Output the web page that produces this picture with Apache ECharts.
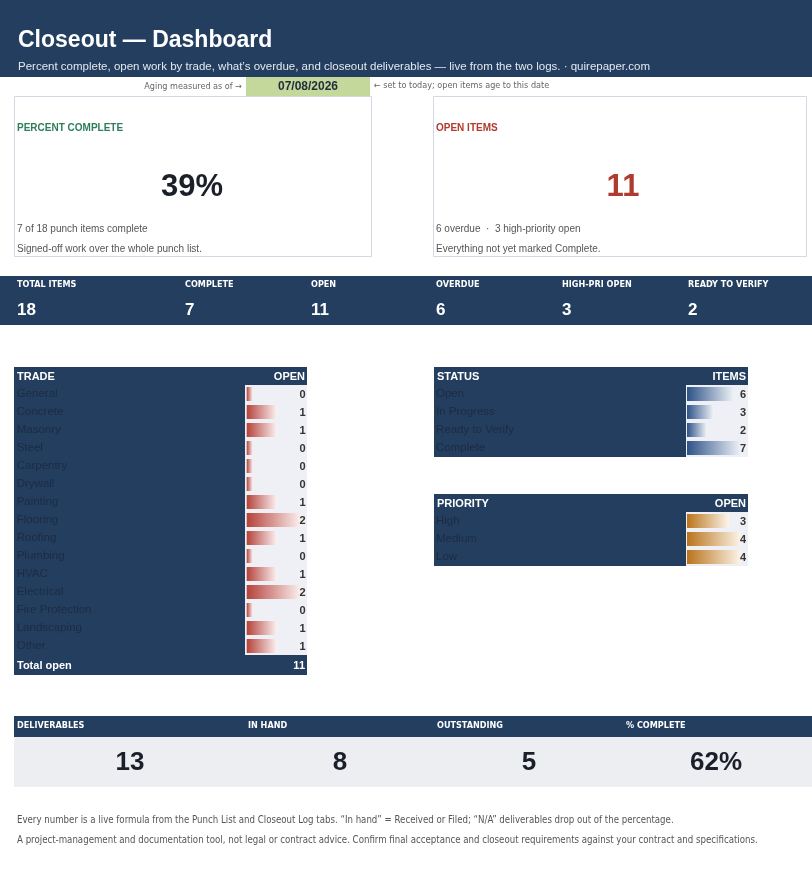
<!DOCTYPE html>
<html>
<head>
<meta charset="utf-8">
<script src="https://cdn.jsdelivr.net/npm/echarts@6/dist/echarts.min.js"></script>
<style>
  html, body { margin: 0; padding: 0; background: #fff; }
  #chart { width: 812px; height: 869px; }
</style>
</head>
<body>
<div id="chart"></div>
<script>
// punch list by trade
const trades = ['General', 'Concrete', 'Masonry', 'Steel', 'Carpentry', 'Drywall', 'Painting', 'Flooring',
  'Roofing', 'Plumbing', 'HVAC', 'Electrical', 'Fire Protection', 'Landscaping', 'Other'];
const tradeOpen = [0, 1, 1, 0, 0, 0, 1, 2, 1, 0, 1, 2, 0, 1, 1];

const statuses = ['Open', 'In Progress', 'Ready to Verify', 'Complete'];
const statusItems = [6, 3, 2, 7];

const priorities = ['High', 'Medium', 'Low'];
const priorityOpen = [3, 4, 4];

const kpiLabels = ['TOTAL ITEMS', 'COMPLETE', 'OPEN', 'OVERDUE', 'HIGH-PRI OPEN', 'READY TO VERIFY'];
const kpiValues = ['18', '7', '11', '6', '3', '2'];

const delivLabels = ['DELIVERABLES', 'IN HAND', 'OUTSTANDING', '% COMPLETE'];
const delivValues = ['13', '8', '5', '62%'];

const NAVY = '#243e60';
const CELL = '#eef0f5';
const FONT = "'Liberation Sans', Roboto, sans-serif";
const NARROW = "'Liberation Sans Narrow', 'DejaVu Sans Condensed', 'Liberation Sans', sans-serif";

const chart = echarts.init(document.getElementById('chart'));

// excel-style data bar: 10% min length, 90% at max
function axisRange(values) {
  const m = Math.max(...values);
  return { min: -m / 8, max: m * 9 / 8 };
}

function dataBar(colorFrom, colorTo, axisMin) {
  return function (params, api) {
    const idx = api.value(1);
    const v = api.value(0);
    const start = api.coord([axisMin, idx]);
    const end = api.coord([v, idx]);
    const h = api.size([0, 1])[1] * 0.78;
    const cs = params.coordSys;
    return {
      type: 'group',
      children: [
        {
          type: 'rect',
          shape: { x: start[0], y: start[1] - h / 2, width: end[0] - start[0], height: h },
          style: {
            fill: new echarts.graphic.LinearGradient(0, 0, 1, 0, [
              { offset: 0, color: colorFrom },
              { offset: 1, color: colorTo }
            ])
          }
        },
        {
          type: 'text',
          style: {
            text: String(v),
            x: cs.x + cs.width - 1,
            y: start[1] + 1,
            align: 'right',
            verticalAlign: 'middle',
            fill: '#333',
            font: 'bold 11px ' + FONT
          }
        }
      ]
    };
  };
}

const tradeRange = axisRange(tradeOpen);
const statusRange = axisRange(statusItems);
const prioRange = axisRange(priorityOpen);

function txt(text, x, y, opts) {
  const o = opts || {};
  return {
    type: 'text', z: 50, x: x, y: y,
    style: {
      text: text,
      fill: o.color || '#fff',
      font: o.font || ('10px ' + FONT),
      align: o.align || 'left',
      verticalAlign: 'middle'
    }
  };
}
function box(x, y, w, h, fill, stroke) {
  return {
    type: 'rect', z: 1,
    shape: { x: x, y: y, width: w, height: h },
    style: { fill: fill, stroke: stroke || null, lineWidth: stroke ? 1 : 0 }
  };
}

const graphics = [
  // header
  box(0, 0, 812, 77, NAVY),
  txt('Closeout — Dashboard', 18, 41, { font: 'bold 23px ' + FONT }),
  txt('Percent complete, open work by trade, what\u2019s overdue, and closeout deliverables \u2014 live from the two logs. \u00b7 quirepaper.com', 18, 67, { font: '11.5px ' + FONT, color: '#e2e8f0' }),
  txt('Aging measured as of \u2192', 242, 87, { font: '9px ' + NARROW, color: '#666', align: 'right' }),
  box(246, 77, 124, 19, '#c4d89c'),
  txt('07/08/2026', 308, 86.5, { font: 'bold 12px ' + FONT, color: '#1f2d3d', align: 'center' }),
  txt('\u2190 set to today; open items age to this date', 374, 86, { font: '9px ' + NARROW, color: '#666' }),

  // cards
  box(14.5, 96.5, 357, 160, '#fff', '#d3d8e2'),
  txt('PERCENT COMPLETE', 17, 128, { font: 'bold 10px ' + FONT, color: '#2e7d5b' }),
  txt('39%', 192, 187, { font: 'bold 31px ' + FONT, color: '#1b1f2a', align: 'center' }),
  txt('7 of 18 punch items complete', 17, 229, { font: '10px ' + FONT, color: '#555' }),
  txt('Signed-off work over the whole punch list.', 17, 249, { font: '10px ' + FONT, color: '#555' }),

  box(433.5, 96.5, 373, 160, '#fff', '#d3d8e2'),
  txt('OPEN ITEMS', 436, 128, { font: 'bold 10px ' + FONT, color: '#b03a2e' }),
  txt('11', 623, 187, { font: 'bold 31px ' + FONT, color: '#b03a2e', align: 'center' }),
  txt('6 overdue  \u00b7  3 high-priority open', 436, 229, { font: '10px ' + FONT, color: '#555' }),
  txt('Everything not yet marked Complete.', 436, 249, { font: '10px ' + FONT, color: '#555' }),

  // kpi band
  box(0, 276, 812, 49, NAVY),

  // trade table
  box(14, 367, 293, 18, NAVY),
  box(14, 385, 231, 270, NAVY),
  box(245, 385, 62, 270, CELL),
  box(14, 655, 293, 20, NAVY),
  txt('TRADE', 17, 377, { font: 'bold 11px ' + FONT }),
  txt('OPEN', 305, 377, { font: 'bold 11px ' + FONT, align: 'right' }),
  txt('Total open', 17, 666, { font: 'bold 11px ' + FONT }),
  txt(String(tradeOpen.reduce((a, b) => a + b, 0)), 305, 666, { font: 'bold 11px ' + FONT, align: 'right' }),

  // status table
  box(434, 367, 314, 18, NAVY),
  box(434, 385, 252, 72, NAVY),
  box(686, 385, 62, 72, CELL),
  txt('STATUS', 437, 377, { font: 'bold 11px ' + FONT }),
  txt('ITEMS', 746, 377, { font: 'bold 11px ' + FONT, align: 'right' }),

  // priority table
  box(434, 494, 314, 18, NAVY),
  box(434, 512, 252, 54, NAVY),
  box(686, 512, 62, 54, CELL),
  txt('PRIORITY', 437, 504, { font: 'bold 11px ' + FONT }),
  txt('OPEN', 746, 504, { font: 'bold 11px ' + FONT, align: 'right' }),

  // deliverables
  box(14, 716, 798, 21, NAVY),
  box(14, 737, 798, 50, '#eceef2'),

  // footer
  txt('Every number is a live formula from the Punch List and Closeout Log tabs. \u201cIn hand\u201d = Received or Filed; \u201cN/A\u201d deliverables drop out of the percentage.', 17, 820, { font: '9.6px ' + NARROW, color: '#555' }),
  txt('A project-management and documentation tool, not legal or contract advice. Confirm final acceptance and closeout requirements against your contract and specifications.', 17, 840, { font: '9.6px ' + NARROW, color: '#555' })
];

const kpiX = [17, 185, 311, 436, 562, 688];
kpiLabels.forEach((l, i) => {
  graphics.push(txt(l, kpiX[i], 285, { font: 'bold 9px ' + NARROW }));
  graphics.push(txt(kpiValues[i], kpiX[i], 310, { font: 'bold 17px ' + FONT }));
});

const delivX = [17, 248, 437, 626];
const delivCx = [130, 340, 529, 716];
delivLabels.forEach((l, i) => {
  graphics.push(txt(l, delivX[i], 726, { font: 'bold 9px ' + NARROW }));
  graphics.push(txt(delivValues[i], delivCx[i], 763, { font: 'bold 26px ' + FONT, color: '#1b1f2a', align: 'center' }));
});

function catAxis(idx, cats, margin) {
  return {
    type: 'category', gridIndex: idx, data: cats, inverse: true, z: 10,
    axisLine: { show: false }, axisTick: { show: false }, splitLine: { show: false },
    axisLabel: { align: 'left', margin: margin, color: '#1c2c42', fontSize: 11.5, fontFamily: FONT, padding: [2, 0, 0, 0] }
  };
}
function valAxis(idx, range) {
  return { type: 'value', gridIndex: idx, min: range.min, max: range.max, show: false, splitLine: { show: false } };
}

chart.setOption({
  backgroundColor: '#fff',
  animation: false,
  graphic: { elements: graphics },
  grid: [
    { left: 246.7, top: 385, width: 60, height: 270 },
    { left: 687, top: 385, width: 60, height: 72 },
    { left: 687, top: 512, width: 60, height: 54 }
  ],
  xAxis: [valAxis(0, tradeRange), valAxis(1, statusRange), valAxis(2, prioRange)],
  yAxis: [catAxis(0, trades, 230), catAxis(1, statuses, 251), catAxis(2, priorities, 251)],
  series: [
    {
      type: 'custom', xAxisIndex: 0, yAxisIndex: 0, z: 5,
      renderItem: dataBar('#b5433b', '#fbf0f0', tradeRange.min),
      data: tradeOpen.map((v, i) => [v, i])
    },
    {
      type: 'custom', xAxisIndex: 1, yAxisIndex: 1, z: 5,
      renderItem: dataBar('#2e5288', '#f0f3f8', statusRange.min),
      data: statusItems.map((v, i) => [v, i])
    },
    {
      type: 'custom', xAxisIndex: 2, yAxisIndex: 2, z: 5,
      renderItem: dataBar('#b9741c', '#fcf5ea', prioRange.min),
      data: priorityOpen.map((v, i) => [v, i])
    }
  ]
});
</script>
</body>
</html>
